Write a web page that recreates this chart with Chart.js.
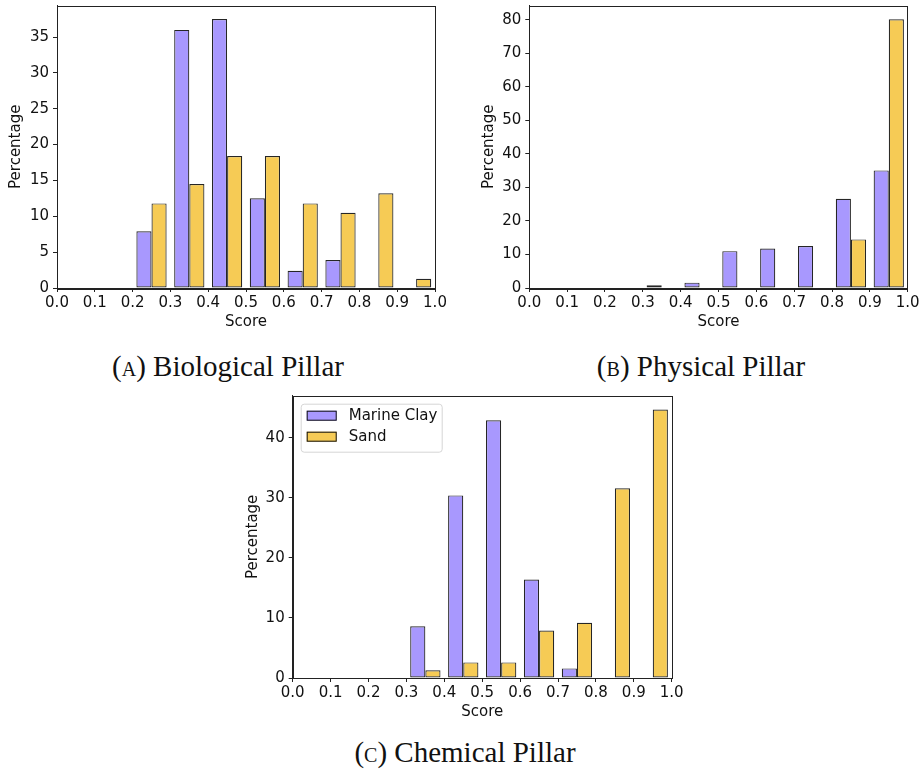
<!DOCTYPE html>
<html>
<head>
<meta charset="utf-8">
<title>Pillar score distributions</title>
<script src="https://cdn.jsdelivr.net/npm/chart.js@4.4.0/dist/chart.umd.min.js"></script>
<style>
    body { margin: 0; background: #fff; }
    #page { position: relative; width: 921px; height: 773px; overflow: hidden; }
    #page canvas { position: absolute; }
    .caption {
        position: absolute;
        font-family: "Liberation Serif", "DejaVu Serif", serif;
        font-size: 29px;
        line-height: 1;
        color: #111;
        white-space: nowrap;
        transform: translateX(-50%);
    }
    .sc { font-variant: small-caps; }
</style>
</head>
<body>
<div id="page">
    <canvas id="bioChart" width="450" height="340" style="left:0;top:0"></canvas>
    <canvas id="physChart" width="451" height="340" style="left:470px;top:0"></canvas>
    <canvas id="chemChart" width="450" height="340" style="left:240px;top:390px"></canvas>
    <div class="caption" style="left:228px;top:352px">(<span class="sc">a</span>) Biological Pillar</div>
    <div class="caption" style="left:701px;top:352px">(<span class="sc">b</span>) Physical Pillar</div>
    <div class="caption" style="left:465px;top:738px">(<span class="sc">c</span>) Chemical Pillar</div>
</div>

<script>

    // score bins (0.1 wide) and percentage of samples in each bin
    const bins = ["0.0-0.1", "0.1-0.2", "0.2-0.3", "0.3-0.4", "0.4-0.5",
                  "0.5-0.6", "0.6-0.7", "0.7-0.8", "0.8-0.9", "0.9-1.0"];

    const bioClay  = [0, 0, 7.9, 36.0, 37.5, 12.5, 2.4, 3.9, 0, 0];
    const bioSand  = [0, 0, 11.8, 14.5, 18.4, 18.4, 11.8, 10.5, 13.2, 1.3];

    const physClay = [0, 0, 0, 0.8, 1.6, 11.0, 11.8, 12.5, 26.6, 35.1];
    const physSand = [0, 0, 0, 0, 0, 0, 0, 0, 14.5, 80.2];

    const chemClay = [0, 0, 0, 8.6, 30.4, 42.9, 16.4, 1.6, 0, 0];
    const chemSand = [0, 0, 0, 1.3, 2.6, 2.6, 7.9, 9.2, 31.6, 44.7];

    const scoreTicks = [0.0, 0.1, 0.2, 0.3, 0.4, 0.5, 0.6, 0.7, 0.8, 0.9, 1.0];
    const bioTicks  = [0, 5, 10, 15, 20, 25, 30, 35];
    const physTicks = [0, 10, 20, 30, 40, 50, 60, 70, 80];
    const chemTicks = [0, 10, 20, 30, 40];

    const seriesNames = ["Marine Clay", "Sand"];
    const clayColor = "#a898fe";
    const sandColor = "#f6cb55";

    const tickFont = { family: "'DejaVu Sans', sans-serif", size: 15 };
    const inkColor = "#111";

    // box round the plot area, like matplotlib spines
    const plotFrame = {
        id: "plotFrame",
        afterDraw(chart) {
            const { ctx, chartArea: a } = chart;
            ctx.save();
            ctx.strokeStyle = "#222";
            ctx.lineWidth = 1;
            ctx.strokeRect(Math.round(a.left) + 0.5, Math.round(a.top) + 0.5,
                           Math.round(a.right - a.left), Math.round(a.bottom - a.top));
            ctx.restore();
        }
    };

    // framed legend drawn inside the top-left corner of the plot
    const cornerLegend = {
        id: "cornerLegend",
        afterDraw(chart, args, opts) {
            if (!opts.show) return;
            const { ctx, chartArea: a } = chart;
            const x0 = a.left + 8, y0 = a.top + 8;
            const w = 141, h = 48;
            ctx.save();
            ctx.beginPath();
            ctx.roundRect(x0 + 0.5, y0 + 0.5, w, h, 3);
            ctx.fillStyle = "rgba(255,255,255,0.8)";
            ctx.fill();
            ctx.strokeStyle = "#d6d6d6";
            ctx.lineWidth = 1;
            ctx.stroke();

            ctx.font = "15px 'DejaVu Sans', sans-serif";
            ctx.textBaseline = "middle";
            chart.data.datasets.forEach((ds, i) => {
                const py = y0 + 7 + i * 21;
                ctx.fillStyle = ds.backgroundColor;
                ctx.fillRect(x0 + 6, py, 30, 10);
                ctx.strokeStyle = "#111";
                ctx.strokeRect(x0 + 6.5, py + 0.5, 29, 9);
                ctx.fillStyle = inkColor;
                ctx.fillText(ds.label, x0 + 48, py + 5.5);
            });
            ctx.restore();
        }
    };

    function pillarChart(id, clay, sand, yTicks, yMax, box) {
        new Chart(document.getElementById(id), {
            type: "bar",
            data: {
                labels: bins,
                datasets: [
                    { label: seriesNames[0], data: clay, backgroundColor: clayColor },
                    { label: seriesNames[1], data: sand, backgroundColor: sandColor }
                ].map(ds => Object.assign(ds, {
                    borderColor: "rgba(0,0,0,0.85)",
                    borderWidth: 1.2,
                    borderSkipped: false,
                    categoryPercentage: 0.8,
                    barPercentage: 1.0
                }))
            },
            options: {
                responsive: false,
                animation: false,
                events: [],
                layout: { padding: { top: box.top, right: box.right, left: 0, bottom: 0 } },
                plugins: {
                    legend: { display: false },
                    tooltip: { enabled: false },
                    cornerLegend: { show: !!box.legend }
                },
                scales: {
                    x: { display: false, offset: true },
                    score: {
                        type: "linear",
                        position: "bottom",
                        offset: false,
                        min: 0,
                        max: 1,
                        afterBuildTicks: s => { s.ticks = scoreTicks.map(v => ({ value: v })); },
                        afterFit: s => {
                            s.height = 52;
                            s.paddingLeft = 0;
                            s.paddingRight = 0;
                        },
                        ticks: {
                            font: tickFont,
                            color: inkColor,
                            padding: 2,
                            maxRotation: 0,
                            autoSkip: false,
                            callback: v => v.toFixed(1)
                        },
                        grid: { offset: false, drawOnChartArea: false, drawTicks: true, tickLength: 4, color: "#222" },
                        border: { display: true, color: "#222" },
                        title: {
                            display: true,
                            text: "Score",
                            font: tickFont,
                            color: inkColor,
                            padding: { top: 0, bottom: 9 }
                        }
                    },
                    y: {
                        min: 0,
                        max: yMax,
                        afterBuildTicks: s => { s.ticks = yTicks.map(v => ({ value: v })); },
                        afterFit: s => {
                            s.width = box.yWidth;
                            s.paddingTop = 0;
                            s.paddingBottom = 0;
                        },
                        ticks: { font: tickFont, color: inkColor, padding: 4 },
                        grid: { drawOnChartArea: false, drawTicks: true, tickLength: 4, color: "#222" },
                        border: { display: true, color: "#222" },
                        title: {
                            display: true,
                            text: "Percentage",
                            font: tickFont,
                            color: inkColor,
                            padding: { top: box.titlePad, bottom: 0 }
                        }
                    }
                }
            },
            plugins: [plotFrame, cornerLegend]
        });
    }

    pillarChart("bioChart", bioClay, bioSand, bioTicks, 39.4,
                { top: 5.5, right: 15, yWidth: 57, titlePad: 7 });
    pillarChart("physChart", physClay, physSand, physTicks, 84.3,
                { top: 5.5, right: 13.3, yWidth: 59.3, titlePad: 10 });
    pillarChart("chemChart", chemClay, chemSand, chemTicks, 47.0,
                { top: 5.7, right: 18.3, yWidth: 52.7, titlePad: 3.7, legend: true });

</script>
</body>
</html>
